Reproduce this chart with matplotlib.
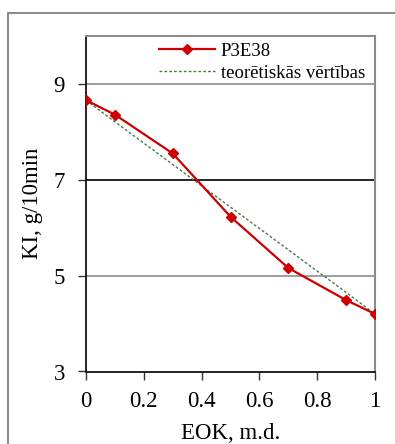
import matplotlib
matplotlib.use("Agg")
import matplotlib.pyplot as plt
from matplotlib.patches import Rectangle

eok = [0, 0.1, 0.3, 0.5, 0.7, 0.9, 1.0]
p3e38 = [8.66, 8.36, 7.55, 6.23, 5.16, 4.49, 4.20]
teor = [8.66, 8.21, 7.32, 6.43, 5.54, 4.65, 4.20]
xticks = [0, 0.2, 0.4, 0.6, 0.8, 1]
xticklabels = ["0", "0.2", "0.4", "0.6", "0.8", "1"]
yticks = [3, 5, 7, 9]

plt.rcParams['font.family'] = ['Liberation Serif', 'DejaVu Serif']

fig = plt.figure(figsize=(3.95, 4.44), dpi=100)
fig.patches.append(Rectangle((8/395, -0.1), 1.0, 1.1 - 13/444, transform=fig.transFigure,
                             fill=False, edgecolor='#8c8c8c', linewidth=1.5))

ax = fig.add_axes([86/395, 1-371.5/444, (375-86)/395, (371.5-36)/444])
grid_colors = {9: '#8c8c8c', 7: '#000000', 5: '#8c8c8c'}
for yv, c in grid_colors.items():
    ax.axhline(yv, color=c, linewidth=1.2, zorder=1)

ax.plot(eok, teor, linestyle=(0, (2, 1.5)), color='#4a7a4a', linewidth=1.0,
        label='teorētiskās vērtības', zorder=2)
ax.plot(eok, p3e38, color='#cc0000', linewidth=1.6, marker='D', markersize=5.5,
        label='P3E38', zorder=3)

ax.set_xlim(0, 1)
ax.set_ylim(3, 10)
ax.set_xticks(xticks)
ax.set_xticklabels(xticklabels)
ax.set_yticks(yticks)
ax.tick_params(axis='both', direction='out', length=6, width=1, labelsize=16.5, color='#333333')
ax.tick_params(axis='x', pad=8)
ax.tick_params(axis='y', pad=9)
for s in ['left', 'bottom']:
    ax.spines[s].set_color('black')
    ax.spines[s].set_linewidth(1.2)
for s in ['top', 'right']:
    ax.spines[s].set_color('#8c8c8c')
    ax.spines[s].set_linewidth(1.5)

ax.set_xlabel('EOK, m.d.', fontsize=16.5, labelpad=8)
ax.set_ylabel('KI, g/10min', fontsize=16.5, labelpad=8)

h, l = ax.get_legend_handles_labels()
ax.legend(h[::-1], l[::-1], loc='upper left', bbox_to_anchor=(0.2, 1.025), frameon=False,
          fontsize=13.5, handlelength=3.0, handletextpad=0.3, labelspacing=0.25, borderpad=0.3)

fig.savefig('out.png', dpi=100)
